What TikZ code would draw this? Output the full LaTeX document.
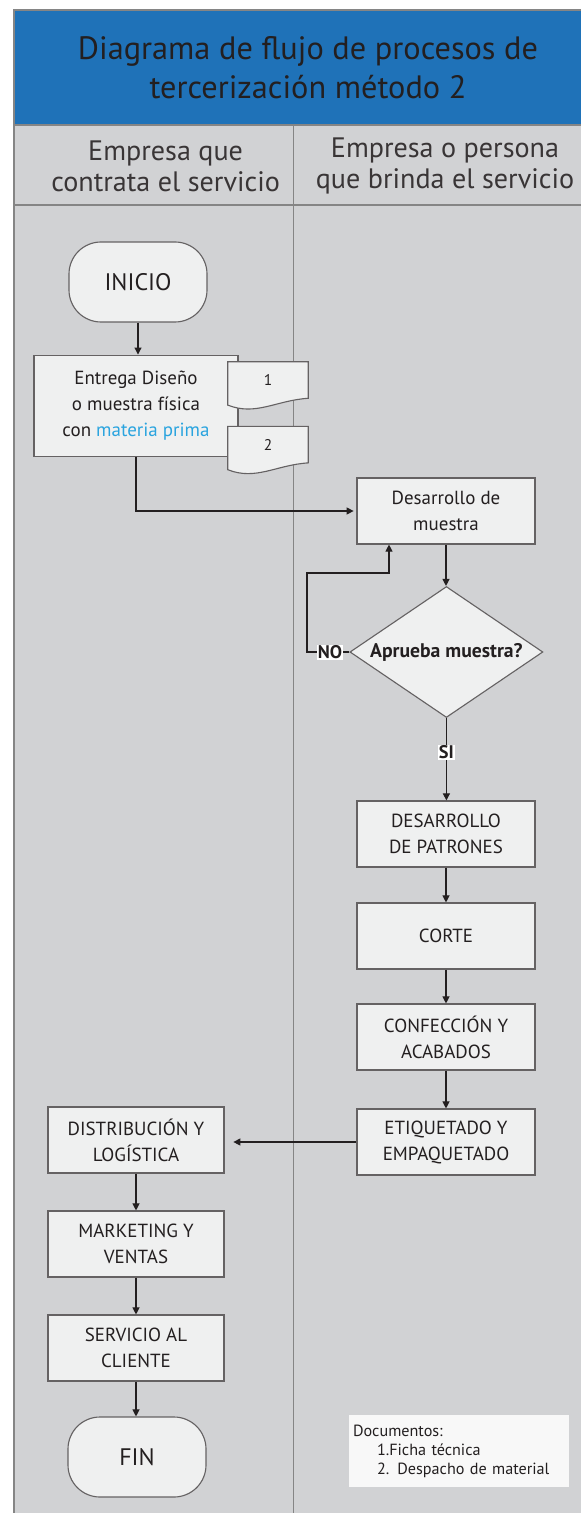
\documentclass[tikz,border=0pt]{standalone}
\usepackage{fontspec}
\setmainfont{PT Sans}
\usetikzlibrary{arrows.meta,positioning,shapes.geometric,calc}
\definecolor{titleblue}{HTML}{1F72B8}
\definecolor{lanegray}{HTML}{D1D2D4}
\definecolor{boxfill}{HTML}{EFF0F0}
\definecolor{ink}{HTML}{231F20}
\definecolor{rawblue}{HTML}{2AA4DF}
\definecolor{laneline}{HTML}{858585}
\tikzset{
  proc/.style={draw=ink!70,line width=0.8pt,fill=boxfill,align=center,
    minimum width=4.45cm,minimum height=1.65cm,inner sep=2pt,
    font=\fontsize{13.5}{18.5}\selectfont},
  term/.style={proc,rounded corners=0.8cm,minimum width=3.45cm,
    minimum height=2cm,font=\fontsize{17}{20}\selectfont},
  decide/.style={diamond,draw=ink!70,line width=0.8pt,fill=boxfill,
    minimum width=4.825cm,minimum height=3.275cm,inner sep=0pt},
  docnum/.style={minimum width=2cm,minimum height=1.15cm,inner sep=0pt,
    font=\fontsize{10}{12}\selectfont},
  flecha/.style={-{Triangle[width=5pt,length=5pt]},line width=0.8pt,draw=ink},
  tag/.style={fill=white,inner sep=0.6pt,font=\bfseries\fontsize{13}{15}\selectfont},
}
% document symbol with a wavy lower edge, drawn round a named node
\newcommand{\docshape}[1]{%
  \filldraw[draw=ink!70,line width=0.8pt,fill=boxfill]
    (#1.north west) -- (#1.north east) -- ([yshift=0.25cm]#1.south east)
    .. controls ([xshift=-0.8cm,yshift=0.2cm]#1.south east)
    and ([xshift=0.7cm,yshift=-0.2cm]#1.south west) .. ([yshift=0.08cm]#1.south west)
    -- cycle;}

\begin{document}
\begin{tikzpicture}[x=1cm,y=1cm,color=ink]
\path[use as bounding box] (0,0) rectangle (14.525,-37.825);

% Swimlane frame
\fill[lanegray] (0.35,-3.125) rectangle (14.7,-37.9);
\fill[titleblue] (0.35,-0.25) rectangle (14.7,-3.125);
\draw[laneline,line width=0.8pt] (0.35,-37.9) -- (0.35,-0.25) -- (14.7,-0.25);
\draw[laneline,line width=0.8pt] (0.35,-3.125) -- (14.7,-3.125);
\draw[laneline,line width=0.8pt] (0.35,-5.125) -- (14.7,-5.125);
\draw[laneline,line width=0.6pt] (7.325,-3.125) -- (7.325,-37.9);

\node[align=center,font=\fontsize{23}{28}\selectfont] (titulo) at (7.7,-1.69)
  {Diagrama de flujo de procesos de\\tercerización método 2};
\node[align=center,font=\fontsize{20}{22}\selectfont,text=ink!90] (lanea) at (4.14,-4.16)
  {Empresa que\\contrata el servicio};
\node[align=center,font=\fontsize{20}{22}\selectfont,text=ink!90] (laneb) at (11.125,-4.16)
  {Empresa o persona\\que brinda el servicio};

% Left lane: start and hand-over
\node[term] (inicio) at (3.45,-7.05) {INICIO};
\node[proc,minimum width=5.1cm,minimum height=2.525cm] (entrega) at (3.4,-10.14)
  {Entrega Diseño\\o muestra física\\con \textcolor{rawblue}{materia prima}};
\node[docnum] (doca) at (6.7,-9.625) {};
\docshape{doca}
\node[font=\fontsize{11}{12}\selectfont] (numa) at (6.7,-9.5) {1};
\node[docnum] (docb) at (6.7,-11.24) {};
\docshape{docb}
\node[font=\fontsize{11}{12}\selectfont] (numb) at (6.7,-11.12) {2};

% Right lane: sample and production
\node[proc] (desmuestra) at (11.15,-12.775) {Desarrollo de\\muestra};
\node[decide] (aprueba) at (11.16,-16.3) {};
\node[font=\bfseries\fontsize{14}{16}\selectfont] (apruebatxt) at (aprueba)
  {Aprueba muestra?};
\node[proc] (patrones) at (11.15,-20.85) {DESARROLLO\\DE PATRONES};
\node[proc] (corte) at (11.15,-23.4) {CORTE};
\node[proc] (confeccion) at (11.15,-25.925) {CONFECCIÓN Y\\ACABADOS};
\node[proc] (etiquetado) at (11.15,-28.55) {ETIQUETADO Y\\EMPAQUETADO};

% Left lane: after delivery
\node[proc,minimum width=4.4cm] (distribucion) at (3.4,-28.5) {DISTRIBUCIÓN Y\\LOGÍSTICA};
\node[proc,minimum width=4.4cm] (marketing) at (3.4,-31.1) {MARKETING Y\\VENTAS};
\node[proc,minimum width=4.4cm] (servicio) at (3.4,-33.7) {SERVICIO AL\\CLIENTE};
\node[term] (fin) at (3.425,-36.425) {FIN};

\node[fill=white!55!boxfill,align=left,text width=5.3cm,minimum height=1.8cm,
  inner sep=3pt,font=\fontsize{11.5}{13.5}\selectfont] (documentos) at (11.475,-36.275)
  {Documentos:\\\hspace*{0.6cm}1.Ficha técnica\\\hspace*{0.6cm}2. Despacho de material};

% Connectors
\coordinate (noloop) at (7.675,-14.325);
\coordinate (noturn) at (9.725,-14.325);
\draw[flecha] (inicio.south) -- (inicio.south |- entrega.north);
\draw[flecha,shorten >=2pt] (entrega.south) |- (desmuestra.west);
\draw[flecha] (desmuestra.south) -- (desmuestra.south |- aprueba.north);
\draw[flecha] (aprueba.west) -| (noloop) -- (noturn) -- (noturn |- desmuestra.south);
\node[tag] (etno) at (8.25,-16.3) {NO};
\draw[flecha] (aprueba.south) -- (aprueba.south |- patrones.north);
\node[tag] (etsi) at (11.16,-18.8) {SI};
\draw[flecha] (patrones) -- (corte);
\draw[flecha] (corte) -- (confeccion);
\draw[flecha] (confeccion) -- (etiquetado);
\draw[flecha,shorten >=0.22cm] (etiquetado.west) -- (etiquetado.west -| distribucion.east);
\draw[flecha] (distribucion) -- (marketing);
\draw[flecha] (marketing) -- (servicio);
\draw[flecha] (servicio.south) -- (servicio.south |- fin.north);
\end{tikzpicture}
\end{document}
